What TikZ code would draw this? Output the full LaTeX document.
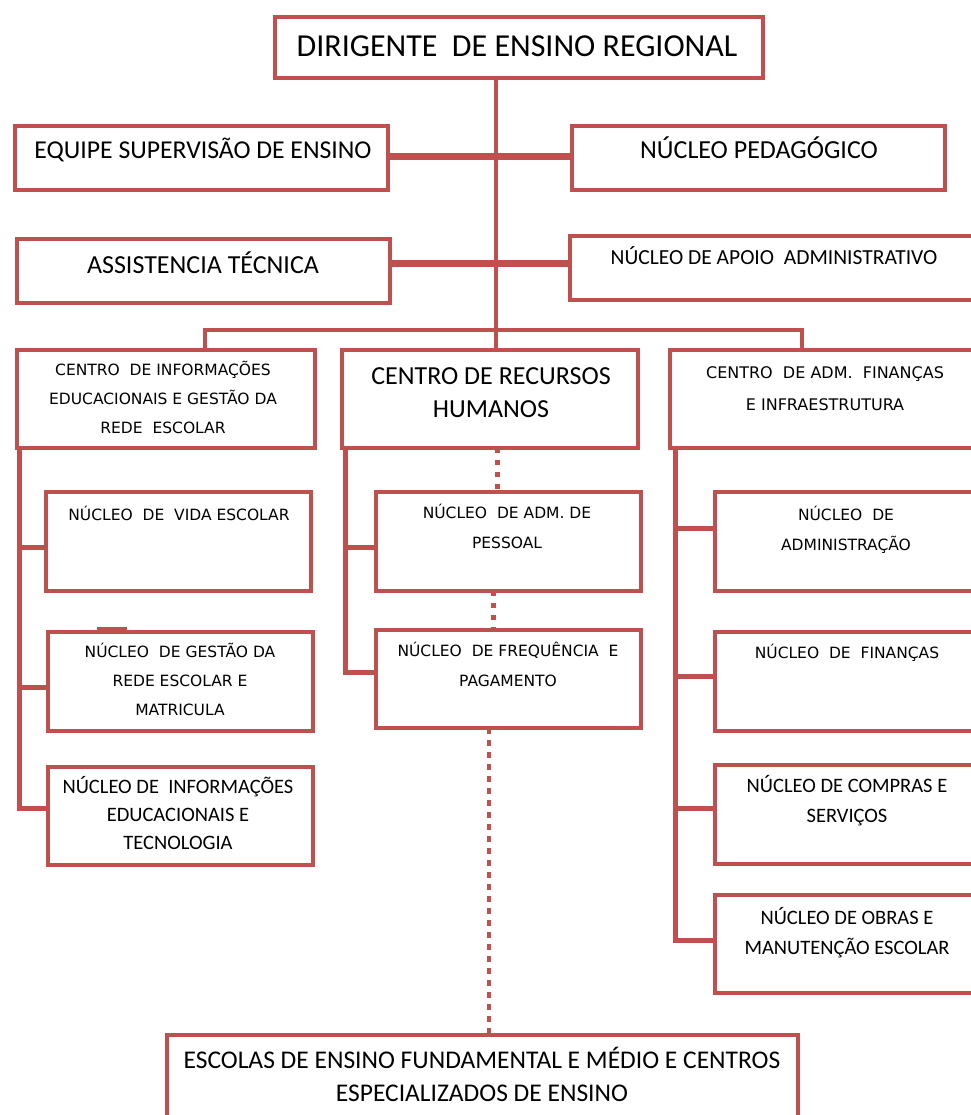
\documentclass[tikz,border=0pt]{standalone}
\usepackage{fontspec}
\newfontfamily\carfont{Carlito}
\newfontfamily\tahfont{DejaVu Sans}
\definecolor{org}{HTML}{C0504D}
\newcommand{\st}{\rule{0pt}{0.9em}}
\tikzset{
  box/.style={draw=org, line width=4pt, inner sep=0pt, outer sep=0pt},
  conn/.style={draw=org, line width=5pt},
  thickconn/.style={draw=org, line width=7pt},
  dotconn/.style={draw=org, line width=5pt, dash pattern=on 5pt off 7pt},
  txt/.style={anchor=north, align=center, inner sep=0pt, text=black},
}
\newcommand{\cf}[2]{\carfont\fontsize{#1}{#2}\selectfont}
\newcommand{\tf}[2]{\tahfont\fontsize{#1}{#2}\selectfont}
\begin{document}
\begin{tikzpicture}[x=1pt,y=-1pt]
\useasboundingbox (0,0) rectangle (970,1115);
% boxes
\node[box, minimum width=488, minimum height=61] (dir) at (519,47.5) {};
\node[box, minimum width=373, minimum height=64] (eq) at (201.5,158) {};
\node[box, minimum width=373, minimum height=64] (ped) at (758.5,158) {};
\node[box, minimum width=373, minimum height=64] (ass) at (203.5,271) {};
\node[box, minimum width=403, minimum height=64] (apo) at (771.5,268) {};
\node[box, minimum width=298, minimum height=98] (cinfo) at (166,399) {};
\node[box, minimum width=296, minimum height=98] (crh) at (490,399) {};
\node[box, minimum width=303, minimum height=98] (cadm) at (821.5,399) {};
\node[box, minimum width=265, minimum height=99] (vida) at (178.5,541.5) {};
\node[box, minimum width=265, minimum height=99] (gest) at (180.5,681.5) {};
\node[box, minimum width=265, minimum height=98] (itec) at (180.5,816) {};
\node[box, minimum width=265, minimum height=99] (pess) at (508.5,541.5) {};
\node[box, minimum width=265, minimum height=98] (freq) at (508.5,679) {};
\node[box, minimum width=258, minimum height=99] (admi) at (844,541.5) {};
\node[box, minimum width=258, minimum height=99] (fin) at (844,681.5) {};
\node[box, minimum width=258, minimum height=99] (comp) at (844,814.5) {};
\node[box, minimum width=258, minimum height=98] (obr) at (844,944) {};
\node[box, minimum width=631, minimum height=88] (esc) at (482.5,1079) {};
% texts
\node[txt, font=\cf{32}{38}] (tdir) at (517,27.5) {\st DIRIGENTE\ \ DE ENSINO REGIONAL};
\node[txt, font=\cf{25.7}{30}] (teq) at (203,135) {\st EQUIPE SUPERVISÃO DE ENSINO};
\node[txt, font=\cf{26}{30}] (tped) at (759,135) {\st NÚCLEO PEDAGÓGICO};
\node[txt, font=\cf{26}{30}] (tass) at (203,250) {\st ASSISTENCIA TÉCNICA};
\node[txt, font=\cf{21.5}{30}] (tapo) at (774,244.6) {\st NÚCLEO DE APOIO\ \ ADMINISTRATIVO};
\node[txt, font=\tf{15.5}{29}] (tcinfo) at (163,361.4) {\st CENTRO\ \ DE INFORMAÇÕES\\EDUCACIONAIS E GESTÃO DA\\REDE\ \ ESCOLAR};
\node[txt, font=\cf{26}{33}] (tcrh) at (491,361) {\st CENTRO DE RECURSOS\\HUMANOS};
\node[txt, font=\tf{16}{32}] (tcadm) at (825,364) {\st CENTRO\ \ DE ADM.\ \ FINANÇAS\\E INFRAESTRUTURA};
\node[txt, font=\tf{15.5}{30}] (tvida) at (179,506.4) {\st NÚCLEO\ \ DE\ \ VIDA ESCOLAR};
\node[txt, font=\tf{15.5}{30}] (tpess) at (507,504.4) {\st NÚCLEO\ \ DE ADM. DE\\PESSOAL};
\node[txt, font=\tf{15.5}{30}] (tadmi) at (846,506.4) {\st NÚCLEO\ \ DE\\ADMINISTRAÇÃO};
\node[txt, font=\tf{15.5}{29}] (tgest) at (180,643.4) {\st NÚCLEO\ \ DE GESTÃO DA\\REDE ESCOLAR E\\MATRICULA};
\node[txt, font=\tf{15.5}{30}] (tfreq) at (508,642.4) {\st NÚCLEO\ \ DE FREQUÊNCIA\ \ E\\PAGAMENTO};
\node[txt, font=\tf{15.5}{30}] (tfin) at (847,644.4) {\st NÚCLEO\ \ DE\ \ FINANÇAS};
\node[txt, font=\cf{20.5}{28}] (titec) at (178,775.2) {\st NÚCLEO DE\ \ INFORMAÇÕES\\EDUCACIONAIS E\\TECNOLOGIA};
\node[txt, font=\cf{20.5}{30}] (tcomp) at (847,774.2) {\st NÚCLEO DE COMPRAS E\\SERVIÇOS};
\node[txt, font=\cf{20.5}{30}] (tobr) at (847,906.2) {\st NÚCLEO DE OBRAS E\\MANUTENÇÃO ESCOLAR};
\node[txt, font=\cf{25.5}{33}] (tesc) at (482,1045.3) {\st ESCOLAS DE ENSINO FUNDAMENTAL E MÉDIO E CENTROS\\ESPECIALIZADOS DE ENSINO};
% trunk and bar
\coordinate (t1) at (496,330);
\coordinate (bl) at (205,330);
\coordinate (br) at (802,330);
\draw[conn, line width=4pt] (t1 |- dir.south) -- (t1 |- crh.north);
\draw[conn, line width=4pt] (bl |- cinfo.north) -- (bl) -- (br) -- (br |- cadm.north);
\draw[thickconn] (eq.east |- 0,157) -- (ped.west |- 0,157);
\draw[thickconn] (ass.east |- 0,263) -- (apo.west |- 0,263);
% left column
\coordinate (lc) at (19,808);
\draw[conn] (lc |- cinfo.south) -- (lc) -- (itec.west |- lc);
\draw[conn] (lc |- 0,547) -- (vida.west |- 0,547);
\draw[conn] (lc |- 0,687) -- (gest.west |- 0,687);
\draw[org, line width=6pt] (97,630) -- (127,630);
% middle column
\coordinate (mc) at (345,672);
\draw[conn] (mc |- crh.south) -- (mc) -- (freq.west |- mc);
\draw[conn] (mc |- 0,547) -- (pess.west |- 0,547);
\coordinate (d1) at (497,0);
\coordinate (d2) at (493,0);
\coordinate (d3) at (489,0);
\draw[dotconn] (d1 |- crh.south) -- (d1 |- pess.north);
\draw[dotconn] (d2 |- pess.south) -- (d2 |- freq.north);
\draw[dotconn, line width=4pt, dash pattern=on 6pt off 6pt] (d3 |- freq.south) -- (d3 |- esc.north);
% right column
\coordinate (rc) at (675,940);
\draw[conn] (rc |- cadm.south) -- (rc) -- (obr.west |- rc);
\draw[conn] (rc |- 0,528) -- (admi.west |- 0,528);
\draw[conn] (rc |- 0,676) -- (fin.west |- 0,676);
\draw[conn] (rc |- 0,808) -- (comp.west |- 0,808);
\end{tikzpicture}
\end{document}
